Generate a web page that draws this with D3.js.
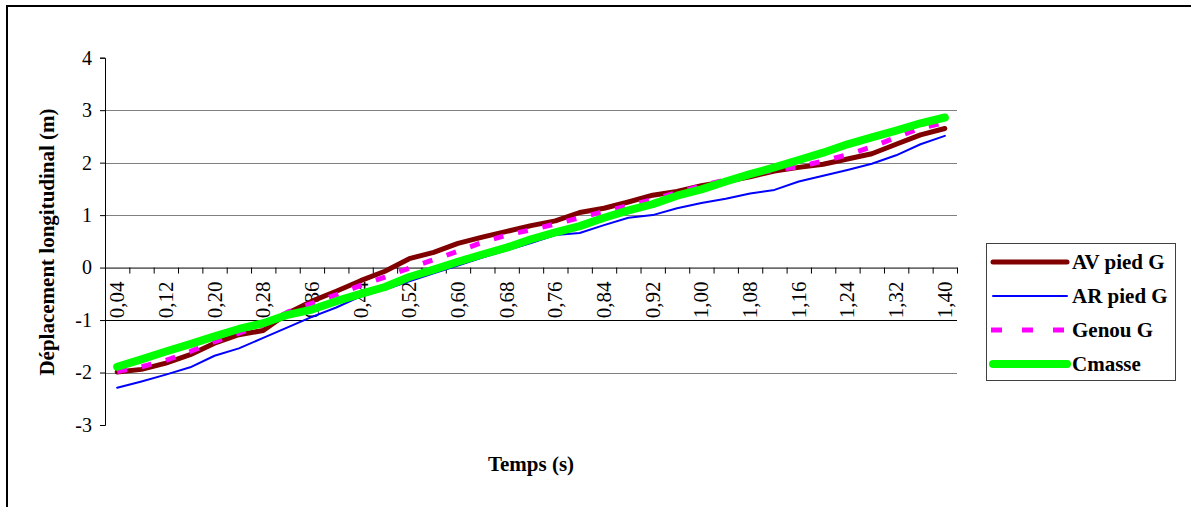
<!DOCTYPE html>
<meta charset="utf-8">
<title>Déplacement longitudinal</title>
<style>
  body { margin: 0; background: #fff; }
  text { font-family: "Liberation Serif", "Times New Roman", serif; }
</style>
<body>
<div id="chart"></div>
<script src="https://cdnjs.cloudflare.com/ajax/libs/d3/7.8.5/d3.min.js"></script>
<script>

// temps (s) - categories
var temps = ["0,04","0,08","0,12","0,16","0,20","0,24","0,28","0,32","0,36","0,40",
             "0,44","0,48","0,52","0,56","0,60","0,64","0,68","0,72","0,76","0,80",
             "0,84","0,88","0,92","0,96","1,00","1,04","1,08","1,12","1,16","1,20",
             "1,24","1,28","1,32","1,36","1,40"];

// series (m)
var avPied = [-1.99,-1.94,-1.82,-1.66,-1.44,-1.28,-1.20,-0.87,-0.64,-0.45,
              -0.25,-0.07,0.17,0.29,0.46,0.58,0.69,0.80,0.89,1.05,
              1.13,1.25,1.38,1.45,1.56,1.64,1.73,1.84,1.91,1.97,
              2.07,2.17,2.35,2.53,2.65];
var arPied = [-2.29,-2.17,-2.04,-1.90,-1.68,-1.54,-1.34,-1.14,-0.94,-0.76,
              -0.55,-0.42,-0.26,-0.11,0.04,0.19,0.33,0.47,0.62,0.66,
              0.81,0.95,1.00,1.13,1.23,1.31,1.41,1.48,1.64,1.75,
              1.86,1.98,2.14,2.35,2.51];
var genou = [-1.98,-1.89,-1.77,-1.60,-1.41,-1.25,-1.09,-0.85,-0.68,-0.52,
             -0.34,-0.18,-0.01,0.15,0.31,0.48,0.62,0.72,0.83,0.95,
             1.07,1.18,1.30,1.43,1.56,1.67,1.78,1.86,1.92,2.03,
             2.15,2.30,2.48,2.66,2.76];
var cmasse = [-1.89,-1.75,-1.60,-1.46,-1.31,-1.17,-1.06,-0.90,-0.80,-0.64,
              -0.50,-0.37,-0.18,-0.04,0.11,0.25,0.38,0.54,0.67,0.79,
              0.95,1.09,1.21,1.37,1.49,1.64,1.78,1.91,2.05,2.19,
              2.35,2.48,2.61,2.75,2.86];

var yTicks = [-3,-2,-1,0,1,2,3,4];
var gridValues = [-2,-1,1,2,3];

var series = [
  {name: "AV pied G", values: avPied, color: "#800000", width: 5, dash: null},
  {name: "AR pied G", values: arPied, color: "#0000ff", width: 2, dash: null},
  {name: "Genou G",   values: genou,  color: "#ff00ff", width: 5, dash: "10,15"},
  {name: "Cmasse",    values: cmasse, color: "#00ff00", width: 8, dash: null}
];

var W = 1191, H = 507;
var plot = {left: 105, right: 957, top: 57.7, bottom: 425};

var svg = d3.select("#chart").append("svg")
    .attr("width", W)
    .attr("height", H);

// cadre
svg.append("rect")
    .attr("x", 7).attr("y", 6)
    .attr("width", W + 20).attr("height", H + 20)
    .attr("fill", "none")
    .attr("stroke", "#000")
    .attr("stroke-width", 2);

// echelles
var x = d3.scaleBand()
    .domain(temps)
    .range([plot.left, plot.right]);
var xEdge = d3.scaleLinear()
    .domain([0, temps.length])
    .range([plot.left, plot.right]);
var y = d3.scaleLinear()
    .domain([-3, 4])
    .range([plot.bottom, plot.top]);

// quadrillage
svg.append("g").selectAll("line")
    .data(gridValues)
    .enter().append("line")
      .attr("x1", plot.left).attr("x2", plot.right)
      .attr("y1", function(d) { return Math.round(y(d)) + 0.5; })
      .attr("y2", function(d) { return Math.round(y(d)) + 0.5; })
      .attr("stroke", function(d) { return d == -1 ? "#000" : "#808080"; })
      .attr("stroke-width", 1);

// axe y
var yAxis = svg.append("g")
    .attr("transform", "translate(" + plot.left + ",0)")
    .call(d3.axisLeft(y).tickValues(yTicks).tickSize(5).tickPadding(8)
      .tickFormat(function(d) { return String(d); }));
yAxis.selectAll("text")
    .attr("font-size", 20)
    .attr("fill", "#000")
    .style("font-family", "'Liberation Serif', 'Times New Roman', serif");
yAxis.selectAll("path, line").attr("stroke", "#000");

// axe x (ligne du zero)
var xAxis = svg.append("g")
    .attr("transform", "translate(0," + y(0) + ")")
    .call(d3.axisBottom(xEdge).tickValues(d3.range(temps.length + 1))
      .tickSize(6).tickSizeOuter(0).tickFormat(""));
xAxis.selectAll("path, line").attr("stroke", "#000");

// etiquettes x, une sur deux
svg.append("g").selectAll("text")
    .data(temps.filter(function(d, i) { return i % 2 == 0; }))
    .enter().append("text")
      .attr("transform", function(d) {
        return "translate(" + (x(d) + x.bandwidth() / 2 + 7) + "," + (y(0) + 14) + ") rotate(-90)";
      })
      .attr("text-anchor", "end")
      .attr("font-size", 21)
      .text(function(d) { return d; });

// courbes
var line = d3.line()
    .x(function(d, i) { return x(temps[i]) + x.bandwidth() / 2; })
    .y(function(d) { return y(d); });

svg.append("g").selectAll("path")
    .data(series)
    .enter().append("path")
      .attr("d", function(s) { return line(s.values); })
      .attr("fill", "none")
      .attr("stroke", function(s) { return s.color; })
      .attr("stroke-width", function(s) { return s.width; })
      .attr("stroke-dasharray", function(s) { return s.dash; })
      .attr("stroke-linejoin", "round")
      .attr("stroke-linecap", function(s) { return s.dash ? "butt" : "round"; });

// titres des axes
svg.append("text")
    .attr("transform", "translate(54,242) rotate(-90)")
    .attr("text-anchor", "middle")
    .attr("font-size", 21)
    .attr("font-weight", "bold")
    .text("Déplacement longitudinal (m)");

svg.append("text")
    .attr("x", 531).attr("y", 471)
    .attr("text-anchor", "middle")
    .attr("font-size", 21)
    .attr("font-weight", "bold")
    .text("Temps (s)");

// legende
var legend = svg.append("g");
legend.append("rect")
    .attr("x", 986.5).attr("y", 243.5)
    .attr("width", 189).attr("height", 137)
    .attr("fill", "#fff")
    .attr("stroke", "#404040")
    .attr("stroke-width", 1);

var items = legend.selectAll("g.item")
    .data(series)
    .enter().append("g")
      .attr("class", "item")
      .attr("transform", function(s, i) { return "translate(0," + (262 + i * 34) + ")"; });

items.append("line")
    .attr("x1", function(s) { return s.dash ? 991 : 993; })
    .attr("x2", function(s) { return s.dash ? 1066 : 1067; })
    .attr("stroke", function(s) { return s.color; })
    .attr("stroke-width", function(s) { return s.width; })
    .attr("stroke-dasharray", function(s) { return s.dash ? "11,20" : null; })
    .attr("stroke-linecap", function(s) { return s.dash ? "butt" : "round"; });

items.append("text")
    .attr("x", 1072)
    .attr("y", 7)
    .attr("font-size", 21)
    .attr("font-weight", "bold")
    .text(function(s) { return s.name; });

</script>
</body>
